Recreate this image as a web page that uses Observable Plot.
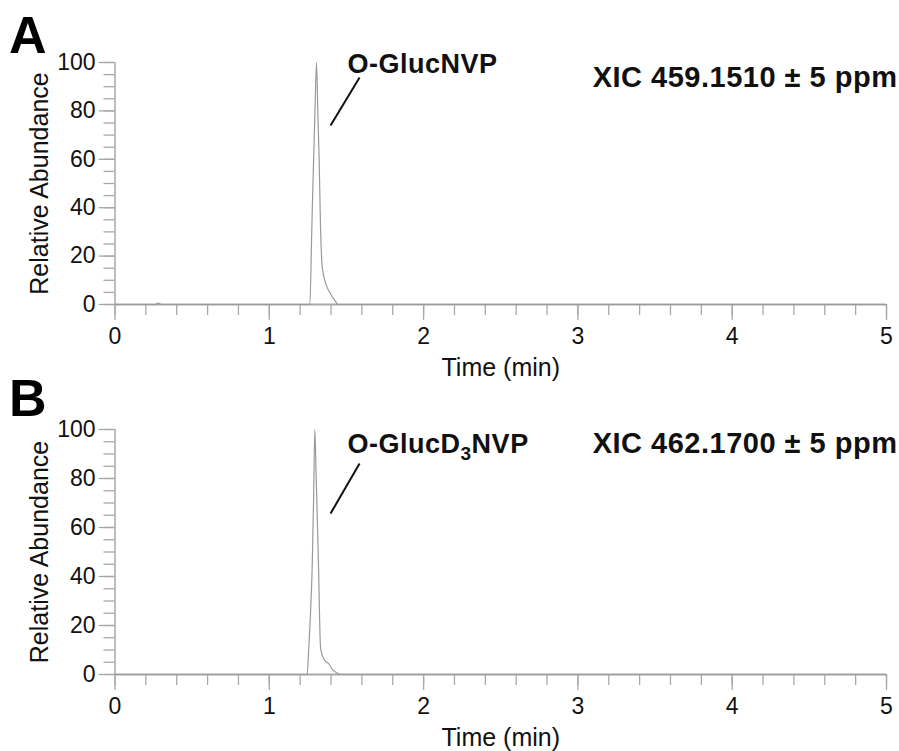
<!DOCTYPE html>
<html>
<head>
<meta charset="utf-8">
<script src="https://cdn.jsdelivr.net/npm/d3@7"></script>
<script src="https://cdn.jsdelivr.net/npm/@observablehq/plot@0.6"></script>
<style>
  html, body { margin: 0; padding: 0; background: #fff; }
  #chart svg { display: block; }
</style>
</head>
<body>
<div id="chart"></div>
<script>
// ---- Data ----
const timeA = [0, 0.26, 0.28, 0.30, 1.25, 1.263, 1.275, 1.285, 1.296, 1.306, 1.315, 1.323, 1.332, 1.34, 1.349, 1.36, 1.371, 1.392, 1.41, 1.429, 1.444, 5];
const abundA = [0, 0, 0.6, 0, 0, 0, 30, 55, 80, 100, 78, 60, 32, 18, 13, 10, 7.6, 5, 3, 1.4, 0, 0];

const timeB = [0, 1.245, 1.256, 1.265, 1.278, 1.287, 1.295, 1.302, 1.308, 1.319, 1.332, 1.345, 1.364, 1.385, 1.41, 1.44, 1.46, 5];
const abundB = [0, 0, 11, 22, 44, 71, 100, 85, 71, 44, 11, 7.5, 5.5, 4.4, 2, 0.6, 0, 0];

const xMajorTicks = [0, 1, 2, 3, 4, 5];
const xMinorTicks = d3.range(0, 5.0001, 0.2);
const yMajorTicks = [0, 20, 40, 60, 80, 100];
const yMinorTicks = d3.range(0, 100.001, 5);

const panels = [
  {letter: "A", compound: "O-GlucNVP", xic: "XIC 459.1510 ± 5 ppm",
   time: timeA, abund: abundA,
   labelAt: {x: 1.507, y: 95.5}, xicAt: {x: 5, y: 90},
   leader: {x1: 1.585, y1: 93.8, x2: 1.397, y2: 74}},
  {letter: "B", compound: "O-GlucD3NVP", xic: "XIC 462.1700 ± 5 ppm",
   time: timeB, abund: abundB,
   labelAt: {x: 1.507, y: 90.6}, xicAt: {x: 5, y: 90.6},
   leader: {x1: 1.585, y1: 86.1, x2: 1.397, y2: 65.7}}
];

const layout = [
  {height: 380, marginTop: 62, marginBottom: 76, letterDy: 52},
  {height: 371, marginTop: 49, marginBottom: 77, letterDy: 35}
];

const FONT = "'Liberation Sans', Arial, Helvetica, sans-serif";
const GRAY = "#a8a8a8";

const container = document.getElementById("chart");

panels.forEach((p, i) => {
  const L = layout[i];
  const data = p.time.map((t, j) => ({t, v: p.abund[j]}));
  const chart = Plot.plot({
    width: 899,
    height: L.height,
    marginLeft: 114.5,
    marginRight: 13,
    marginTop: L.marginTop,
    marginBottom: L.marginBottom,
    style: {fontFamily: FONT, background: "#fff", overflow: "visible"},
    x: {domain: [0, 5], axis: null},
    y: {domain: [0, 100], axis: null},
    marks: [
      // y axis ticks and labels
      Plot.axisY({ticks: yMinorTicks, tickSize: 11, text: null, stroke: GRAY, strokeWidth: 1.3}),
      Plot.axisY({ticks: yMajorTicks, tickSize: 16, text: null, stroke: GRAY, strokeWidth: 1.3}),
      Plot.axisY({ticks: yMajorTicks, tickSize: 0, tickPadding: 19.5, fontSize: 23, fill: "#111", tickFormat: d3.format("d")}),
      // x axis ticks and labels
      Plot.axisX({ticks: xMinorTicks, tickSize: 11, text: null, stroke: GRAY, strokeWidth: 1.3}),
      Plot.axisX({ticks: xMajorTicks, tickSize: 16, text: null, stroke: GRAY, strokeWidth: 1.3}),
      Plot.axisX({ticks: xMajorTicks, tickSize: 0, tickPadding: 23, fontSize: 23, fill: "#111", tickFormat: d3.format("d")}),
      // axis lines
      Plot.ruleX([0], {stroke: GRAY, strokeWidth: 1.5}),
      Plot.ruleY([0], {stroke: GRAY, strokeWidth: 1.8}),
      // chromatogram trace
      Plot.line(data, {x: "t", y: "v", stroke: "#9a9a9a", strokeWidth: 1.2, curve: "monotone-x"}),
      // leader line
      Plot.link([p.leader], {x1: "x1", y1: "y1", x2: "x2", y2: "y2", stroke: "#111", strokeWidth: 2}),
      // compound label
      Plot.text([p.labelAt], {x: "x", y: "y", text: () => p.compound, textAnchor: "start", lineAnchor: "bottom",
        fontWeight: "bold", fontSize: 27, fill: "#111", className: "spaced"}),
      // XIC label
      Plot.text([p.xicAt], {x: "x", y: "y", dx: 11, text: () => p.xic, textAnchor: "end", lineAnchor: "bottom",
        fontWeight: "bold", fontSize: 29, fill: "#111", className: "spaced"}),
      // axis titles
      Plot.text(["Relative Abundance"], {frameAnchor: "left", dx: -67, rotate: -90, text: d => d,
        textAnchor: "middle", lineAnchor: "bottom", fontSize: 25, fill: "#111"}),
      Plot.text(["Time (min)"], {frameAnchor: "bottom", dy: 71, text: d => d,
        textAnchor: "middle", lineAnchor: "bottom", fontSize: 25, fill: "#111"}),
      // panel letter
      Plot.text([p.letter], {frameAnchor: "top-left", dx: -106, dy: L.letterDy - L.marginTop, text: d => d,
        textAnchor: "start", lineAnchor: "bottom", fontWeight: "bold", fontSize: 52, fill: "#000"})
    ]
  });
  // slight letter spacing on the bold labels
  d3.select(chart).selectAll("g.spaced text").style("letter-spacing", "0.5px");
  // Subscript for D3 in the compound label
  d3.select(chart).selectAll("text").each(function() {
    if (this.textContent === "O-GlucD3NVP") {
      const inner = this.querySelector("tspan");
      const target = inner ? d3.select(inner) : d3.select(this);
      target.text(null);
      target.append("tspan").text("O-GlucD");
      target.append("tspan").attr("dy", 7).attr("font-size", 19).text("3");
      target.append("tspan").attr("dy", -7).text("NVP");
    }
  });
  container.appendChild(chart);
});
</script>
</body>
</html>
